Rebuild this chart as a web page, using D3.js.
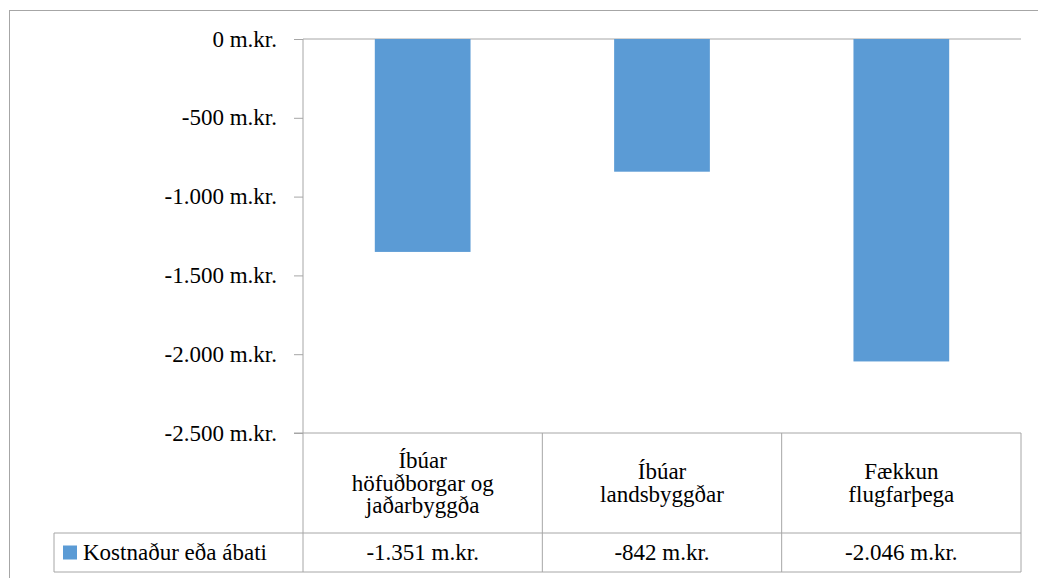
<!DOCTYPE html>
<html>
<head>
<meta charset="utf-8">
<script src="https://cdn.jsdelivr.net/npm/d3@7"></script>
</head>
<body style="margin:0">
<div id="chart-area"></div>
<script>
// data
let categories = [
	['Íbúar', 'höfuðborgar og', 'jaðarbyggða'],
	['Íbúar', 'landsbyggðar'],
	['Fækkun', 'flugfarþega']
]
let values = [-1351, -842, -2046]
let valueLabels = ['-1.351 m.kr.', '-842 m.kr.', '-2.046 m.kr.']
let seriesName = 'Kostnaður eða ábati'
let yTicks = [0, -500, -1000, -1500, -2000, -2500]
let yTickLabels = ['0 m.kr.', '-500 m.kr.', '-1.000 m.kr.', '-1.500 m.kr.', '-2.000 m.kr.', '-2.500 m.kr.']

let width = 1038
let height = 578
let plot = { left: 303, right: 1021, top: 39, bottom: 433 }
let catRowBottom = 533
let valRowBottom = 572
let legendLeft = 54
let lineColor = '#a6a6a6'
let barColor = '#5b9bd5'
let fontSize = 23

let svg = d3.select('#chart-area').append('svg')
	.attr('width', width)
	.attr('height', height)
	.attr('font-family', 'Liberation Serif')

// all texts go in one group drawn first
let labels = svg.append('g')
	.attr('font-family', 'Liberation Serif')
	.attr('font-size', fontSize)

const addText = (tx, ty, anchor, str) => {
	return labels.append('text')
		.attr('x', tx)
		.attr('y', ty)
		.attr('text-anchor', anchor)
		.attr('dy', '0.33em')
		.attr('font-family', 'Liberation Serif')
		.attr('font-size', fontSize)
		.style('font-family', "'Liberation Serif'")
		.style('font-size', fontSize + 'px')
		.text(str)
}

let x = d3.scaleBand()
	.domain(d3.range(categories.length))
	.range([plot.left, plot.right])
	.paddingInner(0.6)
	.paddingOuter(0.3)

let xCell = d3.scaleBand()
	.domain(d3.range(categories.length))
	.range([plot.left, plot.right])

let y = d3.scaleLinear()
	.domain([-2500, 0])
	.range([plot.bottom, plot.top])

// tick labels
yTicks.forEach((t, i) => {
	addText(plot.left - 26, y(t), 'end', yTickLabels[i])
})

// category labels
let lineHeight = 22.5
categories.forEach((lines, i) => {
	let cx = xCell(i) + xCell.bandwidth() / 2
	let midY = (plot.bottom + catRowBottom) / 2
	let startY = midY - (lines.length - 1) * lineHeight / 2
	lines.forEach((l, j) => {
		addText(cx, startY + j * lineHeight, 'middle', l)
	})
})

// value labels
let valY = (catRowBottom + valRowBottom) / 2
valueLabels.forEach((v, i) => {
	addText(xCell(i) + xCell.bandwidth() / 2, valY, 'middle', v)
})
addText(83, valY, 'start', seriesName)

// outer chart border
svg.append('rect')
	.attr('x', 9.5).attr('y', 10.5)
	.attr('width', width + 10).attr('height', height + 10)
	.attr('fill', 'none')
	.attr('stroke', lineColor)

// Y AXIS ticks
let yAxisGroup = svg.append('g')
	.attr('transform', 'translate(' + plot.left + ', 0)')
	.call(d3.axisLeft(y).tickValues(yTicks).tickSize(9).tickFormat(() => ''))
yAxisGroup.attr('font-family', null).attr('font-size', null)
yAxisGroup.select('.domain').remove()
yAxisGroup.selectAll('line').attr('stroke', lineColor)
yAxisGroup.selectAll('text').remove()

// zero line
svg.append('line')
	.attr('x1', plot.left).attr('x2', plot.right)
	.attr('y1', y(0)).attr('y2', y(0))
	.attr('stroke', lineColor)

// bars
svg.selectAll('rect.bar')
	.data(values)
	.enter()
	.append('rect')
		.attr('class', 'bar')
		.attr('x', (d, i) => x(i))
		.attr('width', x.bandwidth())
		.attr('y', y(0))
		.attr('height', (d) => y(d) - y(0))
		.attr('fill', barColor)

// DATA TABLE
let table = svg.append('g').attr('stroke', lineColor).attr('fill', 'none')
table.append('line')
	.attr('x1', plot.left - 9).attr('x2', plot.right)
	.attr('y1', plot.bottom).attr('y2', plot.bottom)
table.append('line')
	.attr('x1', legendLeft).attr('x2', plot.right)
	.attr('y1', catRowBottom).attr('y2', catRowBottom)
table.append('line')
	.attr('x1', legendLeft).attr('x2', plot.right)
	.attr('y1', valRowBottom).attr('y2', valRowBottom)
table.append('line')
	.attr('x1', legendLeft).attr('x2', legendLeft)
	.attr('y1', catRowBottom).attr('y2', valRowBottom)
table.append('line')
	.attr('x1', plot.left).attr('x2', plot.left)
	.attr('y1', plot.top).attr('y2', valRowBottom)
categories.forEach((c, i) => {
	let xr = xCell(i) + xCell.bandwidth()
	table.append('line')
		.attr('x1', xr).attr('x2', xr)
		.attr('y1', plot.bottom).attr('y2', valRowBottom)
})

// legend key
svg.append('rect')
	.attr('x', 63).attr('y', valY - 7)
	.attr('width', 14).attr('height', 14)
	.attr('fill', barColor)
</script>
</body>
</html>
